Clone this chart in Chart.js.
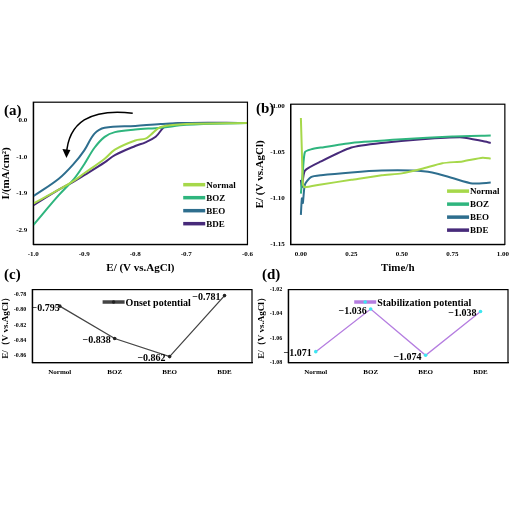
<!DOCTYPE html>
<html><head><meta charset="utf-8">
<script src="https://cdn.jsdelivr.net/npm/chart.js@4"></script>
<style>
body{margin:0;width:512px;height:512px;background:#fff;position:relative;font-family:"Liberation Serif",serif;overflow:hidden}
.c{position:absolute}
.lab{position:absolute;font:bold 15px "Liberation Serif",serif}
</style></head><body>
<div class="c" style="left:0;top:95px;width:256px;height:180px"><canvas id="ca"></canvas></div>
<div class="c" style="left:254px;top:97px;width:258px;height:178px"><canvas id="cb"></canvas></div>
<div class="c" style="left:0;top:283px;width:256px;height:95px"><canvas id="cc"></canvas></div>
<div class="c" style="left:256px;top:283px;width:256px;height:95px"><canvas id="cd"></canvas></div>
<div class="lab" style="left:4px;top:102px">(a)</div>
<div class="lab" style="left:256px;top:100px">(b)</div>
<div class="lab" style="left:4px;top:266px">(c)</div>
<div class="lab" style="left:262px;top:266px">(d)</div>
<script>
const names = ["Normal", "BOZ", "BEO", "BDE"];
const colors = ["#a6d84a", "#2fb57e", "#2e6e8e", "#472a7a"];

// (a) polarization curves
const lsvE = {
  Normal: [-1.0, -0.95, -0.92, -0.9, -0.86, -0.84, -0.8, -0.78, -0.77, -0.75, -0.7, -0.58],
  BOZ: [-1.0, -0.95, -0.92, -0.9, -0.88, -0.86, -0.84, -0.8, -0.75, -0.7, -0.58],
  BEO: [-1.0, -0.95, -0.92, -0.9, -0.88, -0.86, -0.8, -0.75, -0.7, -0.58],
  BDE: [-1.0, -0.95, -0.92, -0.9, -0.86, -0.84, -0.8, -0.78, -0.76, -0.74, -0.7, -0.58]
};
const lsvI = {
  Normal: [-2.28, -1.9, -1.65, -1.45, -1.05, -0.8, -0.55, -0.5, -0.4, -0.18, -0.1, -0.07],
  BOZ: [-2.87, -2.05, -1.6, -1.2, -0.75, -0.45, -0.32, -0.25, -0.2, -0.12, -0.07],
  BEO: [-2.08, -1.6, -1.18, -0.82, -0.36, -0.2, -0.15, -0.1, -0.07, -0.07],
  BDE: [-2.33, -1.9, -1.67, -1.5, -1.15, -0.95, -0.7, -0.6, -0.45, -0.15, -0.07, -0.07]
};
const aTicks = [0, -1, -2, -3];
const aTickLabels = ["0.0", "-1.0", "-1.9", "-2.9"];

// (b) potential vs time
const timeH = {
  Normal: [0, 0.005, 0.01, 0.02, 0.1, 0.25, 0.4, 0.5, 0.6, 0.7, 0.8, 0.9, 0.94],
  BOZ: [0, 0.01, 0.02, 0.05, 0.1, 0.25, 0.5, 0.75, 0.94],
  BEO: [0, 0.005, 0.01, 0.02, 0.05, 0.1, 0.25, 0.4, 0.55, 0.65, 0.75, 0.85, 0.94],
  BDE: [0, 0.005, 0.02, 0.1, 0.25, 0.4, 0.6, 0.8, 0.9, 0.94]
};
const potE = {
  Normal: [-1.013, -1.05, -1.085, -1.088, -1.085, -1.08, -1.075, -1.073, -1.068, -1.062, -1.06, -1.056, -1.057],
  BOZ: [-1.095, -1.07, -1.05, -1.047, -1.045, -1.04, -1.036, -1.033, -1.032],
  BEO: [-1.118, -1.1, -1.105, -1.085, -1.077, -1.075, -1.072, -1.07, -1.07, -1.072, -1.078, -1.084, -1.083],
  BDE: [-1.08, -1.088, -1.07, -1.06, -1.045, -1.04, -1.036, -1.034, -1.038, -1.04]
};

// (c), (d)
const samples = ["Normol", "BOZ", "BEO", "BDE"];
const onset = [-0.795, -0.838, -0.862, -0.781];
const stab = [-1.071, -1.036, -1.074, -1.038];

const font = {family: "Liberation Serif", weight: "bold", size: 7};
const titleFont = {family: "Liberation Serif", weight: "bold", size: 11};
function axis(extra) {
  return Object.assign({
    border: {color: "#000", width: 1.2},
    grid: {display: false, drawTicks: true, tickLength: 3, tickColor: "#000"},
    ticks: {color: "#000", font: font, padding: 2}
  }, extra);
}
const frame = {
  id: "frame",
  afterDraw(ch) {
    const a = ch.chartArea, c = ch.ctx;
    c.save(); c.strokeStyle = "#000"; c.lineWidth = 1.2;
    c.strokeRect(a.left, a.top, a.right - a.left, a.bottom - a.top); c.restore();
  }
};
// legend drawn inside the plot at fractional position
function boxLegend(fx, fy, size, dot) {
  return {
    id: "boxLegend",
    afterDraw(ch) {
      const a = ch.chartArea, c = ch.ctx;
      let x = a.left + fx * (a.right - a.left), y = a.top + fy * (a.bottom - a.top);
      c.save(); c.font = "bold " + size + "px 'Liberation Serif'"; c.textBaseline = "middle";
      ch.data.datasets.forEach(d => {
        c.strokeStyle = d.borderColor; c.lineWidth = 3.5;
        c.beginPath(); c.moveTo(x, y); c.lineTo(x + 22, y); c.stroke();
        if (dot) { c.fillStyle = d.backgroundColor; c.beginPath(); c.arc(x + 11, y, 1.8, 0, 7); c.fill(); }
        c.fillStyle = "#000"; c.fillText(d.label, x + 23, y + 1);
        y += size + 4;
      });
      c.restore();
    }
  };
}

function seriesSets(xs, ys) {
  return names.map((n, i) => ({
    label: n, data: xs[n].map((x, k) => ({x: x, y: ys[n][k]})),
    borderColor: colors[i], backgroundColor: colors[i], borderWidth: 2, pointRadius: 0, tension: 0.35
  }));
}

const arrow = {
  id: "arrow",
  afterDraw(ch) {
    const c = ch.ctx, x = ch.scales.x, y = ch.scales.y;
    c.save(); c.strokeStyle = "#000"; c.lineWidth = 1.5; c.beginPath();
    const x0 = x.getPixelForValue(-0.805), y0 = y.getPixelForValue(0.2);
    const x1 = x.getPixelForValue(-0.935), y1 = y.getPixelForValue(-0.95);
    c.moveTo(x0, y0);
    c.quadraticCurveTo(x.getPixelForValue(-0.93), y.getPixelForValue(0.4), x1, y1);
    c.stroke();
    c.fillStyle = "#000"; c.beginPath();
    c.moveTo(x1 - 4, y1 - 6); c.lineTo(x1 + 4, y1 - 5); c.lineTo(x1, y1 + 3); c.fill();
    c.restore();
  }
};

new Chart(document.getElementById("ca"), {
  type: "line",
  data: {datasets: seriesSets(lsvE, lsvI)},
  options: {
    animation: false, maintainAspectRatio: false,
    layout: {padding: {left: 0, right: 6, top: 4}},
    plugins: {legend: {display: false}, tooltip: {enabled: false}},
    scales: {
      x: axis({type: "linear", min: -1.0, max: -0.58, title: {display: true, text: "E/ (V vs.AgCl)", color: "#000", font: titleFont, padding: 0},
        ticks: {color: "#000", font: font, stepSize: 0.1, callback: v => v.toFixed(1)}}),
      y: axis({min: -3.4, max: 0.5, title: {display: true, text: "I/(mA/cm²)", color: "#000", font: titleFont, padding: 0},
        afterBuildTicks: s => { s.ticks = aTicks.map(v => ({value: v})); },
        ticks: {color: "#000", font: font, callback: (v, i) => aTickLabels[i]}})
    }
  },
  plugins: [frame, arrow, boxLegend(0.7, 0.58, 9, false)]
});

new Chart(document.getElementById("cb"), {
  type: "line",
  data: {datasets: seriesSets(timeH, potE).map(d => Object.assign(d, {tension: 0.2}))},
  options: {
    animation: false, maintainAspectRatio: false,
    layout: {padding: {left: 0, right: 4, top: 4}},
    plugins: {legend: {display: false}, tooltip: {enabled: false}},
    scales: {
      x: axis({type: "linear", min: -0.05, max: 1.01, title: {display: true, text: "Time/h", color: "#000", font: titleFont, padding: 0},
        afterBuildTicks: s => { s.ticks = [0, 0.25, 0.5, 0.75, 1].map(v => ({value: v})); },
        ticks: {color: "#000", font: font, callback: v => v.toFixed(2)}}),
      y: axis({min: -1.15, max: -0.998, title: {display: true, text: "E/ (V vs.AgCl)", color: "#000", font: titleFont, padding: 0},
        afterBuildTicks: s => { s.ticks = [-1.15, -1.1, -1.05, -1.0].map(v => ({value: v})); },
        ticks: {color: "#000", font: font, callback: v => v.toFixed(2)}})
    }
  },
  plugins: [frame, boxLegend(0.73, 0.62, 9, false)]
});

function valueLabels(fmt, dx) {
  return {
    id: "vals",
    afterDatasetsDraw(ch) {
      const c = ch.ctx, meta = ch.getDatasetMeta(0);
      c.save(); c.fillStyle = "#000"; c.font = "bold 10px 'Liberation Serif'"; c.textAlign = "right"; c.textBaseline = "middle";
      meta.data.forEach((p, i) => c.fillText(fmt(ch.data.datasets[0].data[i]), p.x + dx[i], p.y + 2));
      c.restore();
    }
  };
}

function catChart(id, vals, color, pointColor, label, ymin, ymax, ticks, dx, lx) {
  new Chart(document.getElementById(id), {
    type: "line",
    data: {labels: samples, datasets: [{label: label, data: vals, borderColor: color, backgroundColor: pointColor,
      borderWidth: 1.3, pointRadius: 1.8, pointBorderWidth: 0, tension: 0}]},
    options: {
      animation: false, maintainAspectRatio: false,
      layout: {padding: {right: 4, top: 2}},
      plugins: {legend: {display: false}, tooltip: {enabled: false}},
      scales: {
        x: axis({offset: true, grid: {display: false, offset: false, tickLength: 3, tickColor: "#000"}}),
        y: axis({min: ymin, max: ymax, title: {display: true, text: "E/（V vs.AgCl）", color: "#000", font: {family: "Liberation Serif", weight: "bold", size: 9}, padding: 0},
          afterBuildTicks: s => { s.ticks = ticks.map(v => ({value: v})); },
          ticks: {color: "#000", font: {family: "Liberation Serif", weight: "bold", size: 6}, callback: v => v.toFixed(2)}})
      }
    },
    plugins: [frame, boxLegend(lx, 0.17, 10, true), valueLabels(v => v.toFixed(3).replace("-", "−"), dx)]
  });
}
catChart("cc", onset, "#444", "#222", "Onset potential", -0.87, -0.773, [-0.86, -0.84, -0.82, -0.80, -0.78], [0, -4, -4, -4], 0.32);
catChart("cd", stab, "#b57ee0", "#3ee6f0", "Stabilization potential", -1.08, -1.02, [-1.08, -1.06, -1.04, -1.02], [-4, -4, -4, -4], 0.3);
</script>
</body></html>
